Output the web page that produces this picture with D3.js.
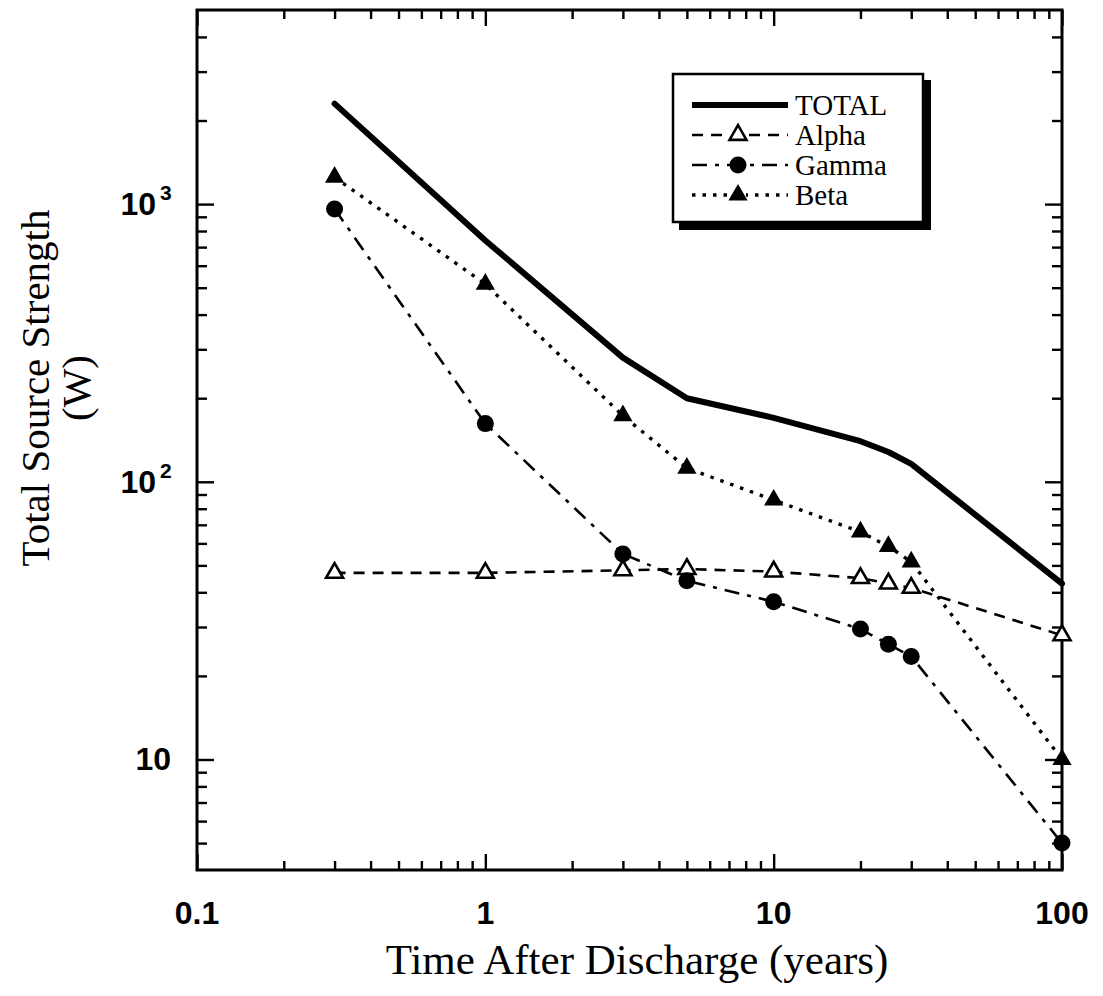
<!DOCTYPE html>
<html>
<head>
<meta charset="utf-8">
<script src="https://cdn.jsdelivr.net/npm/d3@7"></script>
<style>
	body { margin: 0; background: #fff; }
	svg { display: block; }
	.serif { font-family: "Liberation Serif", "Times New Roman", serif; fill: #000; }
	.tick-label { font-family: "Liberation Sans", Arial, sans-serif; font-weight: bold; font-size: 32px; fill: #000; }
</style>
</head>
<body>
<svg id="chart" width="1103" height="996"></svg>
<script>
/* global d3 */

// years after discharge
const years = [0.3, 1, 3, 5, 10, 20, 25, 30, 100];

// source strength in W
const total = [2300, 740, 280, 200, 170, 140, 128, 116, 43];
const alpha = [47, 47, 48, 48.5, 47.5, 45, 43, 41.5, 28];
const gamma = [960, 162, 55, 44, 37, 29.5, 26, 23.5, 5];
const beta = [1250, 515, 173, 112, 86, 66, 58.5, 51.5, 10];

const xTickValues = [0.1, 1, 10, 100];
const xTickLabels = ["0.1", "1", "10", "100"];
const yTickValues = [10, 100, 1000];
const yTickExponents = ["", "2", "3"];

const legendLabels = ["TOTAL", "Alpha", "Gamma", "Beta"];

const svg = d3.select("#chart");
const plot = { left: 197, right: 1062, top: 10, bottom: 870 };

const x = d3.scaleLog().domain([0.1, 100]).range([plot.left, plot.right]);
const y = d3.scaleLog().domain([4, 5000]).range([plot.bottom, plot.top]);

function minorTicks(scale) {
	const [lo, hi] = scale.domain();
	const out = [];
	for (let e = Math.floor(Math.log10(lo)); e <= Math.ceil(Math.log10(hi)); e++) {
		for (let m = 2; m <= 9; m++) {
			const v = m * Math.pow(10, e);
			if (v > lo * 1.0001 && v < hi * 0.9999) out.push(v);
		}
	}
	return out;
}

const styles = {
	total: { dash: null, width: 6 },
	alpha: { dash: "11,8", width: 2.6 },
	gamma: { dash: "15,8,4,8", width: 2.6 },
	beta: { dash: "3.5,7", width: 3.4 },
};

// ticks, all pointing into the frame
function addAxis(axisFn, transform, values, size) {
	const g = svg.append("g").attr("transform", transform)
		.call(axisFn.tickValues(values).tickSize(size).tickFormat(""));
	g.select(".domain").remove();
	g.selectAll(".tick line").attr("stroke", "#000").attr("stroke-width", 2.4);
	return g;
}

const xMinor = minorTicks(x);
const yMinor = minorTicks(y).filter((v) => !yTickValues.includes(v));

addAxis(d3.axisBottom(x), `translate(0,${plot.bottom})`, xTickValues, -16);
addAxis(d3.axisBottom(x), `translate(0,${plot.bottom})`, xMinor, -9);
addAxis(d3.axisTop(x), `translate(0,${plot.top})`, xTickValues, -16);
addAxis(d3.axisTop(x), `translate(0,${plot.top})`, xMinor, -9);
addAxis(d3.axisLeft(y), `translate(${plot.left},0)`, yTickValues, -17);
addAxis(d3.axisLeft(y), `translate(${plot.left},0)`, yMinor, -10);
addAxis(d3.axisRight(y), `translate(${plot.right},0)`, yTickValues, -17);
addAxis(d3.axisRight(y), `translate(${plot.right},0)`, yMinor, -10);

svg.append("rect")
	.attr("x", plot.left).attr("y", plot.top)
	.attr("width", plot.right - plot.left).attr("height", plot.bottom - plot.top)
	.attr("fill", "none").attr("stroke", "#000").attr("stroke-width", 3);

// tick labels
svg.append("g").selectAll("text")
	.data(xTickValues)
	.join("text")
	.attr("class", "tick-label")
	.attr("x", (d) => x(d))
	.attr("y", 924)
	.attr("text-anchor", "middle")
	.text((d, i) => xTickLabels[i]);

const yLabelGroup = svg.append("g");
yTickValues.forEach((v, i) => {
	const exp = yTickExponents[i];
	yLabelGroup.append("text")
		.attr("class", "tick-label")
		.attr("x", exp ? 156 : 171)
		.attr("y", y(v) + 11)
		.attr("text-anchor", "end")
		.text("10");
	if (exp) {
		yLabelGroup.append("text")
			.attr("class", "tick-label")
			.attr("x", 160)
			.attr("y", y(v) - 4)
			.style("font-size", "21px")
			.text(exp);
	}
});

// axis titles
svg.append("text")
	.attr("class", "serif")
	.attr("x", 637)
	.attr("y", 974)
	.attr("text-anchor", "middle")
	.style("font-size", "43px")
	.text("Time After Discharge (years)");

const yTitle = svg.append("text")
	.attr("class", "serif")
	.attr("transform", "translate(49,388) rotate(-90)")
	.attr("text-anchor", "middle")
	.style("font-size", "41px");
yTitle.append("tspan").attr("x", 0).attr("y", 0).text("Total Source Strength");
yTitle.append("tspan").attr("x", 0).attr("y", 41).text("(W)");

// series
const series = [
	{ key: "total", values: total, marker: null },
	{ key: "alpha", values: alpha, marker: "openTriangle" },
	{ key: "gamma", values: gamma, marker: "circle" },
	{ key: "beta", values: beta, marker: "triangle" },
];

const line = d3.line()
	.x((d) => x(d[0]))
	.y((d) => y(d[1]));

function drawMarker(sel, type) {
	if (type === "circle") {
		sel.append("circle").attr("r", 8.5).attr("fill", "#000");
	} else if (type === "triangle") {
		sel.append("path").attr("d", d3.symbol(d3.symbolTriangle, 160)()).attr("fill", "#000");
	} else if (type === "openTriangle") {
		sel.append("path").attr("d", d3.symbol(d3.symbolTriangle, 125)())
			.attr("fill", "#fff").attr("stroke", "#000").attr("stroke-width", 2.6);
	}
}

for (const s of series) {
	const pts = years.map((t, i) => [t, s.values[i]]);
	const st = styles[s.key];
	svg.append("path")
		.datum(pts)
		.attr("d", line)
		.attr("fill", "none")
		.attr("stroke", "#000")
		.attr("stroke-width", st.width)
		.attr("stroke-linecap", s.key === "total" ? "round" : "butt")
		.attr("stroke-linejoin", "round")
		.attr("stroke-dasharray", st.dash);
}

for (const s of series) {
	if (!s.marker) continue;
	svg.append("g").selectAll("g")
		.data(years.map((t, i) => [t, s.values[i]]))
		.join("g")
		.attr("transform", (d) => `translate(${x(d[0])},${y(d[1])})`)
		.each(function () { drawMarker(d3.select(this), s.marker); });
}

// legend
const legend = svg.append("g").attr("transform", "translate(673,74)");
legend.append("rect").attr("x", 6).attr("y", 6).attr("width", 252).attr("height", 150).attr("fill", "#000");
legend.append("rect").attr("x", 0).attr("y", 0).attr("width", 250).attr("height", 148)
	.attr("fill", "#fff").attr("stroke", "#000").attr("stroke-width", 2.5);

legendLabels.forEach((label, i) => {
	const s = series[i];
	const st = styles[s.key];
	const cy = 31 + i * 30;
	legend.append("line")
		.attr("x1", 19).attr("x2", 115).attr("y1", cy).attr("y2", cy)
		.attr("stroke", "#000")
		.attr("stroke-width", st.width)
		.attr("stroke-dasharray", st.dash);
	if (s.marker) {
		legend.append("rect").attr("x", 57).attr("y", cy - 9).attr("width", 16).attr("height", 18).attr("fill", "#fff");
		drawMarker(legend.append("g").attr("transform", `translate(65,${cy})`), s.marker);
	}
	legend.append("text")
		.attr("class", "serif")
		.attr("x", 122)
		.attr("y", cy + 10)
		.style("font-size", "29px")
		.text(label);
});
</script>
</body>
</html>
